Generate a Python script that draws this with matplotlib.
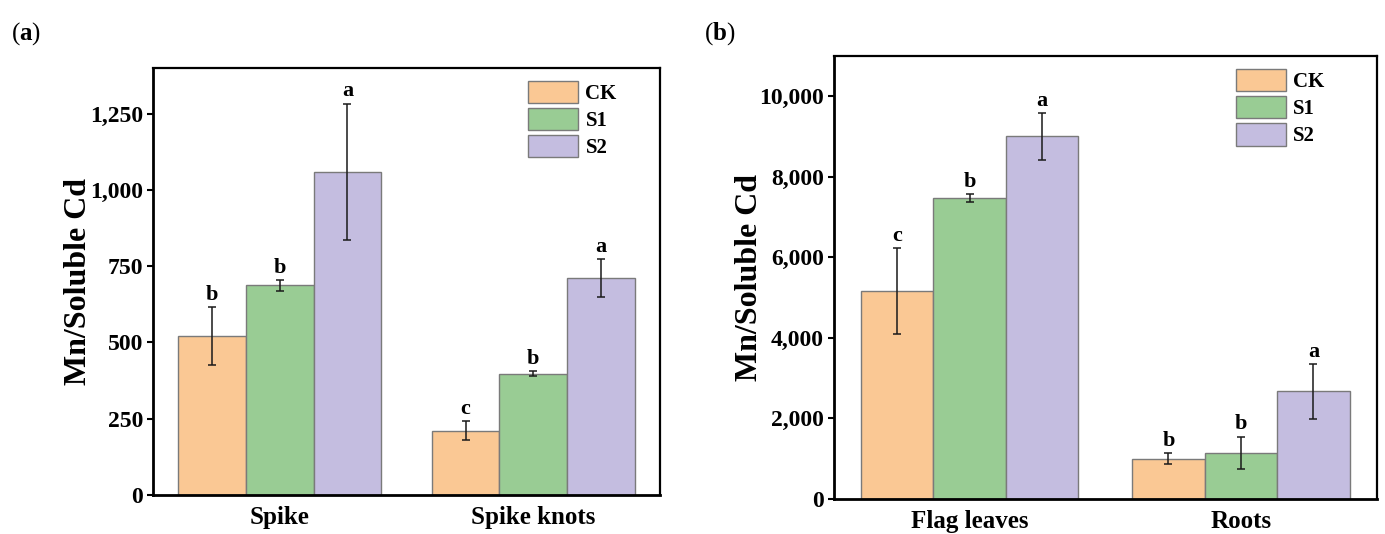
import numpy as np
import matplotlib
matplotlib.use('Agg')
import matplotlib.pyplot as plt
from matplotlib.ticker import FuncFormatter

# 字体：Times 风格加粗
plt.rcParams['font.family'] = ['Liberation Serif', 'DejaVu Serif']
plt.rcParams['font.weight'] = 'bold'
plt.rcParams['mathtext.fontset'] = 'custom'
plt.rcParams['mathtext.bf'] = 'Liberation Serif:bold'
plt.rcParams['mathtext.rm'] = 'Liberation Serif'

treatments = ['CK', 'S1', 'S2']
colors = ['#FAC894', '#99CC94', '#C4BDE0']

# (a) 穗、穗节
tissues_a = ['Spike', 'Spike knots']
mean_a = {
    'CK': [520, 210],
    'S1': [687, 398],
    'S2': [1059, 711],
}
err_a = {
    'CK': [95, 31],
    'S1': [18, 7],
    'S2': [224, 63],
}
letters_a = {
    'CK': ['b', 'c'],
    'S1': ['b', 'b'],
    'S2': ['a', 'a'],
}

# (b) 旗叶、根
tissues_b = ['Flag leaves', 'Roots']
mean_b = {
    'CK': [5160, 1000],
    'S1': [7480, 1150],
    'S2': [9000, 2670],
}
err_b = {
    'CK': [1070, 135],
    'S1': [100, 400],
    'S2': [585, 680],
}
letters_b = {
    'CK': ['c', 'b'],
    'S1': ['b', 'b'],
    'S2': ['a', 'a'],
}

bar_w = 0.267


def draw_panel(ax, tissues, means, errs, letters, ylim, yticks):
    x = np.arange(len(tissues))
    for i, t in enumerate(treatments):
        pos = x + (i - 1) * bar_w
        ax.bar(pos, means[t], width=bar_w, color=colors[i], edgecolor='#7a7a7a',
               linewidth=1.0, label=t, zorder=2)
        ax.errorbar(pos, means[t], yerr=errs[t], fmt='none', ecolor='#1a1a1a',
                    elinewidth=1.1, capsize=3, capthick=1.1, zorder=3)
        for p, m, e, s in zip(pos, means[t], errs[t], letters[t]):
            ax.annotate(s, (p, m + e), xytext=(0, 1.5), textcoords='offset points',
                        ha='center', va='bottom', fontsize=16, fontweight='bold')
    ax.set_xlim(-0.5, len(tissues) - 0.5)
    ax.set_ylim(*ylim)
    ax.set_yticks(yticks)
    ax.yaxis.set_major_formatter(FuncFormatter(lambda v, p: f'{v:,.0f}'))
    ax.set_xticks(x)
    ax.set_xticklabels(tissues)
    ax.tick_params(axis='x', length=0, pad=8, labelsize=18)
    ax.tick_params(axis='y', direction='out', length=4, width=1.5, pad=3, labelsize=17)
    for side in ['left', 'bottom']:
        ax.spines[side].set_linewidth(2.0)
    for side in ['top', 'right']:
        ax.spines[side].set_linewidth(1.6)
    ax.set_ylabel('Mn/Soluble Cd', fontsize=23, fontweight='bold')
    ax.legend(loc='upper left', bbox_to_anchor=(0.74, 0.97), frameon=False,
              fontsize=15, handlelength=2.4, handleheight=1.25, labelspacing=0.2,
              handletextpad=0.35, borderpad=0, borderaxespad=0)


fig = plt.figure(figsize=(13.85, 5.34), dpi=100)
ax1 = fig.add_axes([0.1105, 0.073, 0.366, 0.80])
ax2 = fig.add_axes([0.602, 0.0655, 0.392, 0.83])

draw_panel(ax1, tissues_a, mean_a, err_a, letters_a, (0, 1400), np.arange(0, 1251, 250))
draw_panel(ax2, tissues_b, mean_b, err_b, letters_b, (0, 11000), np.arange(0, 10001, 2000))

ax1.yaxis.set_label_coords(-0.118, 0.5)
ax2.yaxis.set_label_coords(-0.129, 0.5)

fig.text(0.008, 0.925, r'($\mathbf{a}$)', fontsize=18, fontweight='normal')
fig.text(0.508, 0.925, r'($\mathbf{b}$)', fontsize=18, fontweight='normal')

fig.savefig('out.png', dpi=100)
